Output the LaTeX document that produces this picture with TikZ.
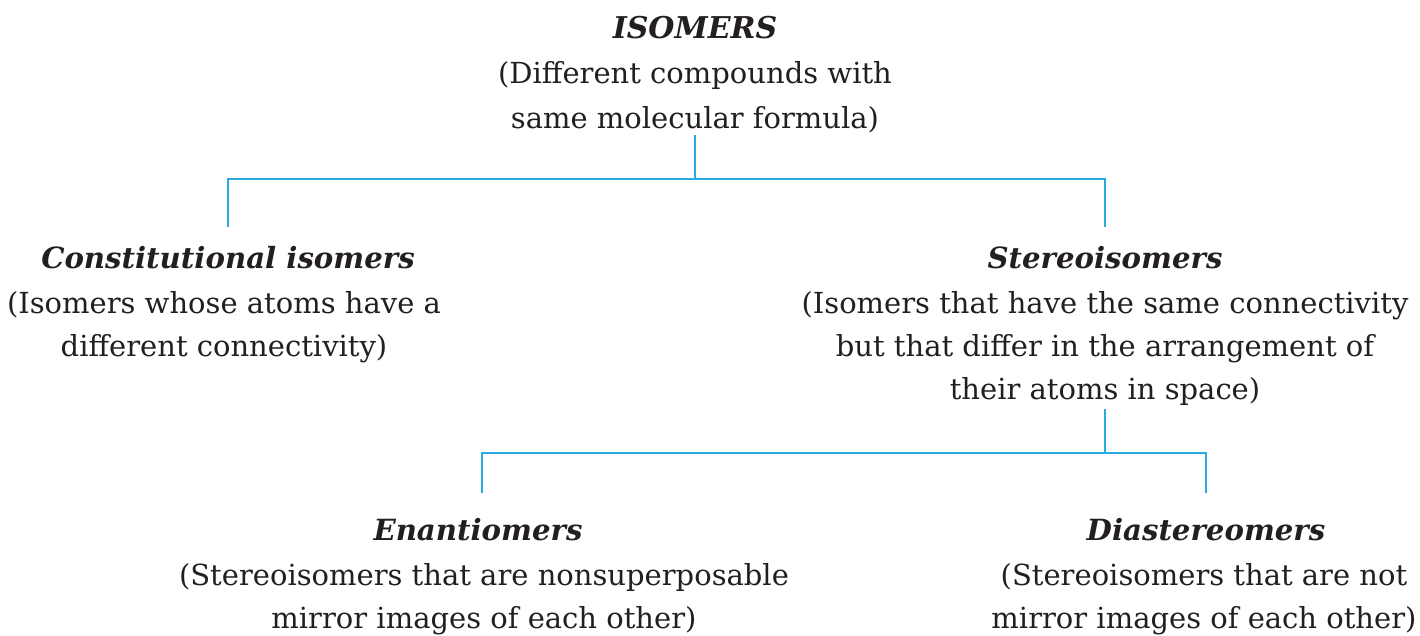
\documentclass[tikz,border=0pt]{standalone}
\usepackage{fontspec}
\setmainfont{DejaVu Serif}
\usetikzlibrary{calc}
\definecolor{linkblue}{RGB}{41,171,226}
\definecolor{inkgray}{RGB}{35,31,32}
\begin{document}
\begin{tikzpicture}[x=1pt,y=1pt,
  conn/.style={draw=linkblue,line width=2.8pt},
  head/.style={inner sep=0pt,anchor=base,text=inkgray,font=\fontsize{29.2}{36}\selectfont\bfseries\itshape},
  desc/.style={inner sep=0pt,anchor=north,align=center,text=inkgray,font=\fontsize{29}{43}\selectfont}]
\useasboundingbox (0,0) rectangle (1420,-635);
% top block
\node[head,font=\fontsize{30}{36}\selectfont\bfseries\itshape] (isoH) at (695,-38) {ISOMERS};
\node[desc,font=\fontsize{29}{45}\selectfont] (isoD) at (695,-61) {(Different compounds with\\same molecular formula)};
% second level
\node[head] (conH) at (228,-268) {Constitutional isomers};
\node[desc] (conD) at (224,-291) {(Isomers whose atoms have a\\different connectivity)};
\node[head] (steH) at (1105,-268) {Stereoisomers};
\node[desc] (steD) at (1105,-291) {(Isomers that have the same connectivity\\but that differ in the arrangement of\\their atoms in space)};
% third level
\node[head] (enaH) at (478,-540) {Enantiomers};
\node[desc] (enaD) at (484,-563) {(Stereoisomers that are nonsuperposable\\mirror images of each other)};
\node[head] (diaH) at (1206,-540) {Diastereomers};
\node[desc] (diaD) at (1204,-563) {(Stereoisomers that are not\\mirror images of each other)};
% junction coordinates
\coordinate (isoStem) at (695,-135);
\coordinate (isoJ) at (695,-179);
\coordinate (conTop) at (228,-227);
\coordinate (steTop) at (1105,-227);
\coordinate (steStem) at (1105,-409);
\coordinate (steJ) at (1105,-453);
\coordinate (enaTop) at (482,-493);
\coordinate (diaTop) at (1206,-493);
% connectors
\draw[conn] (isoStem) -- (isoJ);
\draw[conn] (conTop) |- (isoJ) -| (steTop);
\draw[conn] (steStem) -- (steJ);
\draw[conn] (enaTop) |- (steJ) -| (diaTop);
\end{tikzpicture}
\end{document}
